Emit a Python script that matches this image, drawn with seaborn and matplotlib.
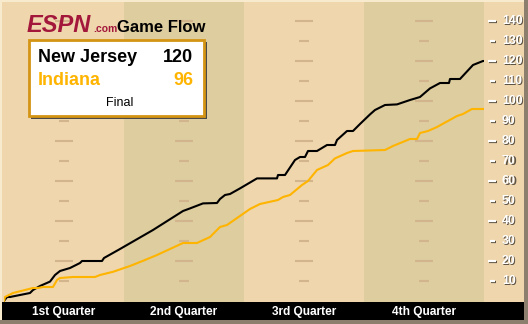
import matplotlib
matplotlib.use("Agg")
import matplotlib.pyplot as plt
from matplotlib import font_manager
from matplotlib.patches import Rectangle
import seaborn as sns
import pandas as pd

# ---------------- data ----------------
teams = ["New Jersey", "Indiana"]
final_scores = [120, 96]
status_text = "Final"
quarter_labels = ["1st Quarter", "2nd Quarter", "3rd Quarter", "4th Quarter"]
y_tick_values = [10, 20, 30, 40, 50, 60, 70, 80, 90, 100, 110, 120, 130, 140]

nj_minutes = [0, 0.3, 0.6, 2.6, 2.9, 3.6, 4.6, 5.1, 5.6, 6.6, 7.6, 7.8, 9.8, 10.0,
              11.6, 14.9, 17.9, 18.6, 19.9, 21.3, 21.6, 22.1, 22.6, 23.6,
              25.3, 27.3, 27.4, 28.1, 29.1, 29.6, 30.1, 30.4, 31.3, 32.3, 33.1,
              33.3, 34.3, 34.9, 35.6, 36.6, 37.1, 38.1, 39.3, 40.6, 41.6, 42.6,
              43.6, 44.5, 44.6, 45.6, 46.9, 47.9, 48.0]
nj_scores = [0, 2, 2, 4, 5.5, 7.5, 9.7, 13, 15, 16.5, 19, 20, 20, 21.5,
             26, 35.5, 45, 46.3, 48.8, 49, 51, 53, 53.5, 56.3,
             61.3, 61.3, 63, 63, 70.5, 72, 72, 75, 75, 78, 78,
             80.5, 85, 85, 88.5, 93.3, 95.5, 98, 98.3, 100.5, 102, 106.3,
             109, 109, 111, 111, 118, 120, 120]

ind_minutes = [0, 0.1, 0.9, 2.9, 3.4, 3.9, 4.9, 5.3, 5.6, 6.9, 9.1, 9.6, 10.9,
               12.6, 14.1, 15.3, 16.6, 17.9, 19.3, 20.6, 21.6, 22.3, 24.6,
               25.6, 27.4, 27.9, 28.6, 29.8, 30.4, 31.3, 32.4, 33.1, 34.3,
               34.9, 38.1, 38.9, 40.6, 41.3, 41.6, 42.4, 43.3, 45.3, 45.9,
               46.8, 48.0]
ind_scores = [0, 2, 4, 6.5, 6.5, 7, 7, 10.5, 11.5, 12, 12, 13, 14.6,
              17.5, 20.5, 23, 26, 29, 29, 32, 37, 38, 46,
              48.5, 50.5, 52, 53, 58, 60, 65.5, 68, 71.3, 74,
              75, 75.5, 77.5, 81, 81, 84, 85, 87, 92.5, 93.5,
              96, 96]

# ---------------- style ----------------
LIGHT = "#EFD6AD"
DARK = "#DDCD9F"
HILITE = "#F8EBCD"
DASH = "#D3B58D"
GOLD = "#FFB400"
MAROON = "#A3173B"
EDGE = "#8C7F6D"
SHADOW = "#5E5446"

def has_font(name):
    try:
        font_manager.findfont(font_manager.FontProperties(family=name), fallback_to_default=False)
        return True
    except Exception:
        return False

BASE = "Liberation Sans" if has_font("Liberation Sans") else "DejaVu Sans"

sns.set_theme(style="white")
plt.rcParams["font.family"] = [BASE, "DejaVu Sans"]

W, H = 528, 324
fig = plt.figure(figsize=(W / 100, H / 100), dpi=100)
fig.patch.set_facecolor(LIGHT)

# main plot axes : x 4..484 px, y 2..302 px
ax = fig.add_axes([4 / W, (H - 302) / H, 480 / W, 300 / H])
ax.set_facecolor(LIGHT)
ax.set_xlim(0, 48)
ax.set_ylim(-0.5, 149.5)
for s in ax.spines.values():
    s.set_visible(False)
ax.set_xticks([])
ax.set_yticks([])

for q in (1, 3):
    ax.axvspan(q * 12, (q + 1) * 12, color=DARK, lw=0, zorder=0)

# faint guide dashes in the middle of each quarter
for q in range(4):
    c = q * 12 + 6
    for v in y_tick_values:
        half = 0.9 if v % 20 == 0 else 0.5
        ax.plot([c - half, c + half], [v, v], color=DASH, lw=1.5,
                solid_capstyle="butt", zorder=1)

df = pd.concat([
    pd.DataFrame({"minute": nj_minutes, "score": nj_scores, "team": teams[0]}),
    pd.DataFrame({"minute": ind_minutes, "score": ind_scores, "team": teams[1]}),
])
sns.lineplot(data=df, x="minute", y="score", hue="team",
             palette={teams[0]: "black", teams[1]: GOLD},
             estimator=None, sort=False, legend=False, lw=1.5, ax=ax, zorder=3)
ax.set_xlabel("")
ax.set_ylabel("")

# overlay in pixel coordinates
ov = fig.add_axes([0, 0, 1, 1], zorder=5)
ov.set_xlim(0, W)
ov.set_ylim(H, 0)
ov.set_axis_off()
ov.patch.set_alpha(0)

# frame strips
ov.add_patch(Rectangle((0, 0), W, 2, color=HILITE, lw=0))
ov.add_patch(Rectangle((0, 0), 2, H, color=HILITE, lw=0))
ov.add_patch(Rectangle((2, 302), 522, 18, color="black", lw=0))
ov.add_patch(Rectangle((0, 320), W, 4, color=EDGE, lw=0))
ov.add_patch(Rectangle((524, 0), 4, H, color=EDGE, lw=0))

# quarter labels
for i, lab in enumerate(quarter_labels):
    ov.text(64 + 120 * i, 311.5, lab, color="white", fontsize=8.6,
            fontweight="bold", ha="center", va="center")

# right-side score axis
for v in y_tick_values:
    y = 301 - 2 * v
    x0 = 488 if v % 20 == 0 else 490
    x1 = 496 if v % 20 == 0 else 494.5
    ov.plot([x0 + 1, x1 + 1], [y + 1, y + 1], color=SHADOW, lw=1.6,
            solid_capstyle="butt")
    ov.plot([x0, x1], [y, y], color="white", lw=1.6, solid_capstyle="butt")
    ov.text(502 + 1, y + 1.3, str(v), color=SHADOW, fontsize=8.8,
            fontweight="bold", ha="left", va="center")
    ov.text(502, y + 0.3, str(v), color="white", fontsize=8.8,
            fontweight="bold", ha="left", va="center")

# logo
ov.text(27, 32, "ESPN", color=MAROON, fontsize=17, fontweight="heavy",
        fontstyle="italic", ha="left", va="baseline")
ov.text(93, 32, ".com", color=MAROON, fontsize=7.5, fontweight="bold",
        ha="left", va="baseline")
ov.text(117, 32.5, "Game Flow", color="black", fontsize=12, fontweight="bold",
        ha="left", va="baseline")

# score box
ov.add_patch(Rectangle((31, 42), 176, 77, color="#4A4A4A", lw=0))
ov.add_patch(Rectangle((29, 40), 175, 76, facecolor="white",
                       edgecolor="#D49414", lw=2))
ov.text(38, 61.5, teams[0], color="black", fontsize=13, fontweight="bold",
        ha="left", va="baseline")
ov.text(193, 61.5, str(final_scores[0]), color="black", fontsize=13,
        fontweight="bold", ha="right", va="baseline")
ov.text(38, 85, teams[1], color=GOLD, fontsize=13, fontweight="bold",
        ha="left", va="baseline")
ov.text(193, 85, str(final_scores[1]), color=GOLD, fontsize=13,
        fontweight="bold", ha="right", va="baseline")
ov.text(120, 106, status_text, color="black", fontsize=9,
        ha="center", va="baseline")

fig.savefig("out.png", dpi=100, facecolor=fig.get_facecolor())
